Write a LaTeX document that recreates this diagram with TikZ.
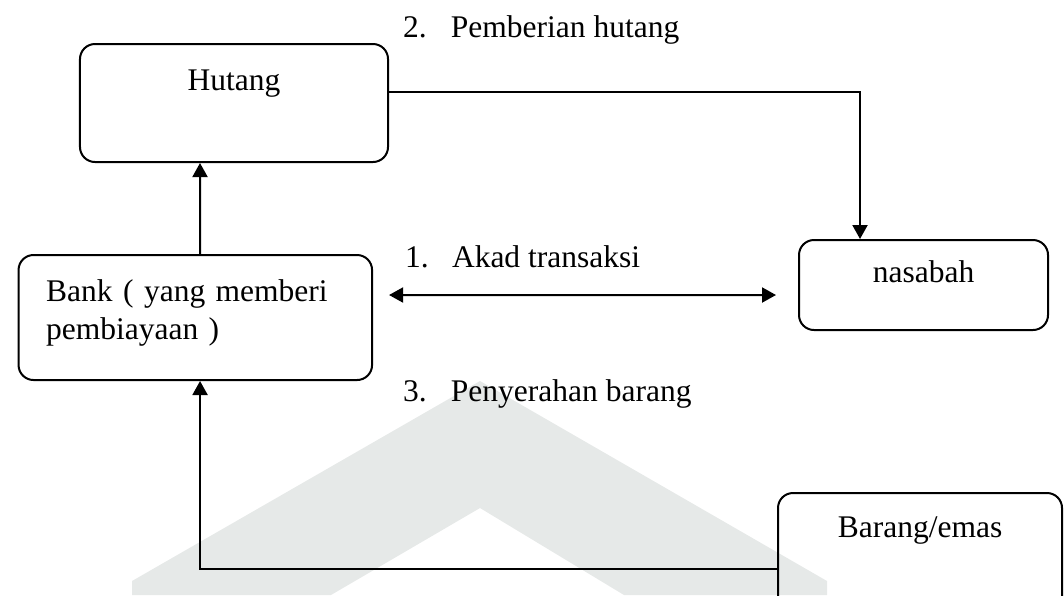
\documentclass[tikz,border=0pt]{standalone}
\usepackage{fontspec}
\setmainfont{Liberation Serif}
\usetikzlibrary{arrows.meta}
\definecolor{wmark}{RGB}{230,233,232}
\begin{document}
\begin{tikzpicture}[x=0.4pt, y=-0.4pt, line width=0.8pt, font=\fontsize{12.6}{15.2}\selectfont,
    main/.style = {draw, rectangle, rounded corners=6pt, inner sep=0pt},
    lbl/.style = {anchor=base west, inner sep=0pt},
    tip/.style = {-{Triangle[length=5.6pt, width=6pt]}},
    tips/.style = {{Triangle[length=5.6pt, width=6pt]}-{Triangle[length=5.6pt, width=6pt]}}]
        \clip (0,0) rectangle (1064,595);
        \fill[wmark] (132,595) -- (132,581) -- (480,381) -- (827,581) -- (827,595) -- (624,595) -- (480,508) -- (331,595) -- cycle;

        \node[main, minimum width=123.2pt, text height=18.4pt, text depth=28.8pt] (hutang) at (234,103) {Hutang};
        \node[main, inner xsep=11pt, text width=119.4pt, align=left, text height=18.4pt, text depth=31.6pt] (bank) at (195.3,317.5) {Bank ( yang memberi\\pembiayaan )};
        \node[main, minimum width=99.6pt, text height=16.8pt, text depth=19.2pt] (nasabah) at (923.5,285) {nasabah};
        \node[main, minimum width=113.6pt, text height=17.6pt, text depth=37.2pt] (barang) at (920,561.5) {Barang/emas};

        \node[lbl] (l2) at (402,37) {\makebox[19.2pt][l]{2.}Pemberian hutang};
        \node[lbl] (l1) at (404,267) {\makebox[18.8pt][l]{1.}Akad transaksi};
        \node[lbl] (l3) at (402,401) {\makebox[19.2pt][l]{3.}Penyerahan barang};

        \draw[tip] ([xshift=1.9pt]bank.north) -- ([xshift=-13.6pt]hutang.south);

        \draw[tip] ([yshift=-0.8pt]hutang.base east) -| ([xshift=24.8pt]nasabah.north west);

        \draw[tips] ([shift={(6.4pt,9pt)}]bank.east) -- ([shift={(-8.8pt,-4pt)}]nasabah.west);

        \draw[tip] ([yshift=-3pt]barang.west) -| ([xshift=1.9pt]bank.south);

    \end{tikzpicture}
\end{document}
